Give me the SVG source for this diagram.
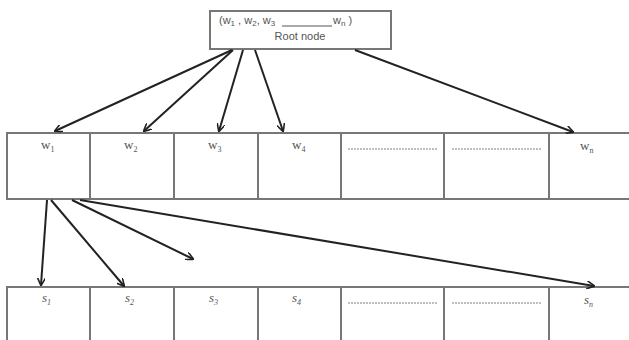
<svg xmlns="http://www.w3.org/2000/svg" width="629" height="340" viewBox="0 0 629 340">
<defs>
<style>
.box{fill:#fff;stroke:#777;stroke-width:2}
.div{stroke:#777;stroke-width:2}
.dots{stroke:#aaa;stroke-width:1.5;stroke-dasharray:2 1}
.lbl{font-family:"Liberation Serif",serif;font-size:13px;fill:#555}
.rt{font-family:"Liberation Sans",sans-serif;font-size:11px;fill:#555}
.sub{font-size:8px}
.arr{stroke:#222;stroke-width:2;fill:none;marker-end:url(#ah)}
</style>
<marker id="ah" viewBox="0 0 10 10" refX="9" refY="5" markerWidth="8" markerHeight="8" markerUnits="userSpaceOnUse" orient="auto">
<path d="M0,0 L10,5 L0,10" fill="none" stroke="#222" stroke-width="2"/>
</marker>
</defs>
<rect width="629" height="340" fill="#fff"/>

<g id="root">
<rect class="box" x="210" y="11" width="181" height="38"/>
<text class="rt" x="219" y="24">(w<tspan class="sub" dy="2">1</tspan><tspan dy="-2"> , w</tspan><tspan class="sub" dy="2">2</tspan><tspan dy="-2">, w</tspan><tspan class="sub" dy="2">3</tspan></text>
<line x1="282" y1="26" x2="332" y2="26" stroke="#555" stroke-width="1"/>
<text class="rt" x="333" y="24">w<tspan class="sub" dy="2">n</tspan><tspan dy="-2"> )</tspan></text>
<text class="rt" x="300" y="40" text-anchor="middle">Root node</text>
</g>

<g id="row-w">
<rect class="box" x="7" y="133" width="640" height="66"/>
<line class="div" x1="90" y1="133" x2="90" y2="199"/>
<line class="div" x1="174" y1="133" x2="174" y2="199"/>
<line class="div" x1="258" y1="133" x2="258" y2="199"/>
<line class="div" x1="341" y1="133" x2="341" y2="199"/>
<line class="div" x1="444" y1="133" x2="444" y2="199"/>
<line class="div" x1="549" y1="133" x2="549" y2="199"/>
<text class="lbl" x="41" y="149">w<tspan class="sub" dy="3">1</tspan></text>
<text class="lbl" x="124" y="149">w<tspan class="sub" dy="3">2</tspan></text>
<text class="lbl" x="208" y="149">w<tspan class="sub" dy="3">3</tspan></text>
<text class="lbl" x="292" y="149">w<tspan class="sub" dy="3">4</tspan></text>
<line class="dots" x1="348" y1="149" x2="438" y2="149"/>
<line class="dots" x1="452" y1="149" x2="542" y2="149"/>
<text class="lbl" x="580" y="150">w<tspan class="sub" dy="3">n</tspan></text>
</g>

<g id="row-s">
<rect class="box" x="7" y="287" width="640" height="66"/>
<line class="div" x1="90" y1="287" x2="90" y2="340"/>
<line class="div" x1="174" y1="287" x2="174" y2="340"/>
<line class="div" x1="258" y1="287" x2="258" y2="340"/>
<line class="div" x1="341" y1="287" x2="341" y2="340"/>
<line class="div" x1="444" y1="287" x2="444" y2="340"/>
<line class="div" x1="549" y1="287" x2="549" y2="340"/>
<text class="lbl" x="42" y="302" font-style="italic">s<tspan class="sub" dy="3">1</tspan></text>
<text class="lbl" x="125" y="302" font-style="italic">s<tspan class="sub" dy="3">2</tspan></text>
<text class="lbl" x="209" y="302" font-style="italic">s<tspan class="sub" dy="3">3</tspan></text>
<text class="lbl" x="292" y="302" font-style="italic">s<tspan class="sub" dy="3">4</tspan></text>
<line class="dots" x1="348" y1="303" x2="438" y2="303"/>
<line class="dots" x1="452" y1="303" x2="542" y2="303"/>
<text class="lbl" x="584" y="304" font-style="italic">s<tspan class="sub" dy="3">n</tspan></text>
</g>

<g id="connectors">
<line class="arr" x1="232" y1="50" x2="55" y2="131"/>
<line class="arr" x1="233" y1="50" x2="144" y2="131"/>
<line class="arr" x1="243" y1="50" x2="219" y2="131"/>
<line class="arr" x1="255" y1="50" x2="283" y2="131"/>
<line class="arr" x1="355" y1="50" x2="573" y2="132"/>
<line class="arr" x1="47" y1="200" x2="41" y2="285"/>
<line class="arr" x1="51" y1="200" x2="124" y2="286"/>
<line class="arr" x1="72" y1="200" x2="193" y2="259"/>
<line class="arr" x1="80" y1="200" x2="594" y2="286"/>
</g>
</svg>
